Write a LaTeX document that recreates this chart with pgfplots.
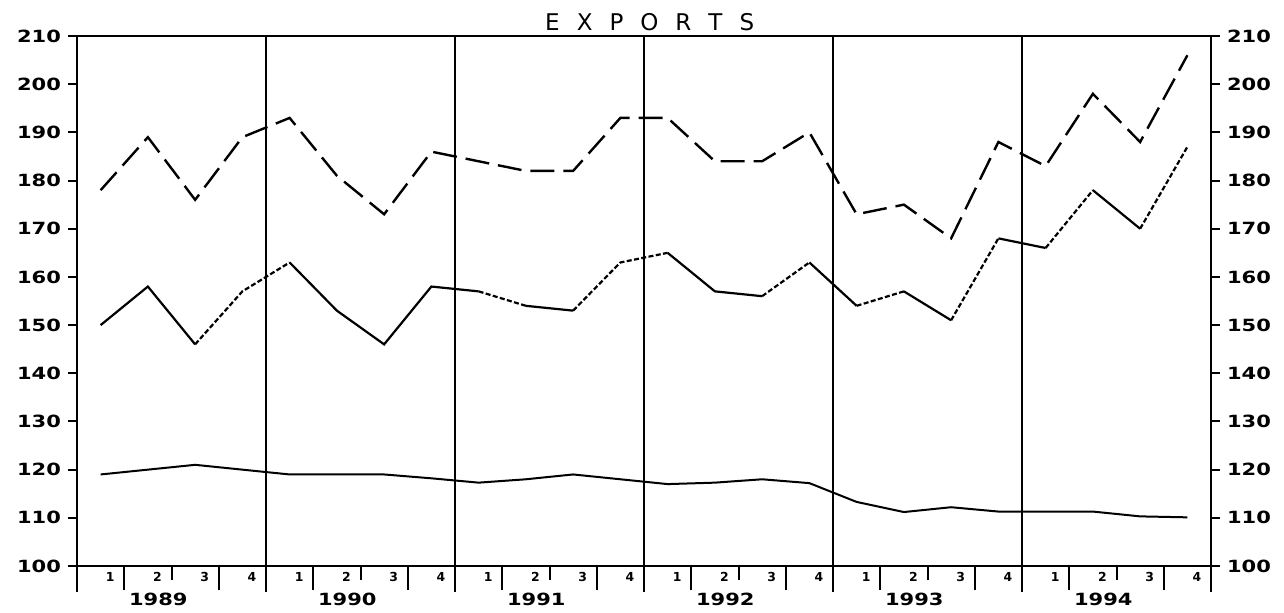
\documentclass[border=0pt]{standalone}
\usepackage{fontspec}
\setmainfont{DejaVu Sans}
\usepackage{graphicx}
\usepackage{pgfplots}
\pgfplotsset{compat=1.18}

\newcommand{\wide}[1]{\scalebox{1.25}[1]{#1}}

\pgfplotsset{
  frame/.style={
    scale only axis, width=567pt, height=265pt,
    at={(38.5pt,23pt)}, anchor=south west,
    xmin=0, xmax=24, ymin=100, ymax=210,
    axis line style={line width=1.4pt},
    tick style={line width=1pt, black},
    tick align=outside,
    /pgf/number format/assume math mode=true,
  },
  ylab/.style={
    ytick={100,110,...,210},
    yticklabel={\wide{\bfseries\pgfmathprintnumber{\tick}}},
    yticklabel style={font=\fontsize{8.4}{9}\selectfont},
    major tick length=4.5pt,
  },
}

\begin{document}
\begin{tikzpicture}
\useasboundingbox (0,0) rectangle (642pt,306pt);

% data, year lines, quarter ticks
\begin{axis}[frame,
  clip mode=individual,
  ytick=\empty,
  xtick pos=bottom,
  xtick={2,6,10,14,18,22}, xticklabels={},
  minor xtick={1,3,5,7,9,11,13,15,17,19,21,23},
  major tick length=7pt, minor tick length=12pt,
  extra x ticks={0,4,8,12,16,20,24}, extra x tick labels={},
  extra x tick style={grid=major, major grid style={black, line width=1pt}, major tick length=13pt},
  unbounded coords=jump,
]
% total exports
\addplot[black, line width=1.2pt, dash pattern=on 12pt off 4.5pt] coordinates {
  (0.5,178) (1.5,189) (2.5,176) (3.5,189) (4.5,193) (5.5,181) (6.5,173) (7.5,186)
  (8.5,184) (9.5,182) (10.5,182) (11.5,193) (12.5,193) (13.5,184) (14.5,184) (15.5,190)
  (16.5,173) (17.5,175) (18.5,168) (19.5,188) (20.5,183) (21.5,198) (22.5,188) (23.5,206)
};
% middle series, solid pieces
\addplot[black, line width=1.1pt] coordinates {
  (0.5,150) (1.5,158) (2.5,146) (3,nan)
  (4.5,163) (5.5,153) (6.5,146) (7.5,158) (8.5,157) (9,nan)
  (9.5,154) (10.5,153) (11,nan)
  (12.5,165) (13.5,157) (14.5,156) (15,nan)
  (15.5,163) (16.5,154) (17,nan)
  (17.5,157) (18.5,151) (19,nan)
  (19.5,168) (20.5,166) (21,nan)
  (21.5,178) (22.5,170)
};
% middle series, dotted pieces
\addplot[black, line width=1.1pt, dash pattern=on 2.5pt off 1.2pt] coordinates {
  (2.5,146) (3.5,157) (4.5,163) (5,nan)
  (8.5,157) (9.5,154) (10,nan)
  (10.5,153) (11.5,163) (12.5,165) (13,nan)
  (14.5,156) (15.5,163) (16,nan)
  (16.5,154) (17.5,157) (18,nan)
  (18.5,151) (19.5,168) (20,nan)
  (20.5,166) (21.5,178) (22,nan)
  (22.5,170) (23.5,187)
};
% bottom series
\addplot[black, line width=1pt] coordinates {
  (0.5,119) (1.5,120) (2.5,121) (3.5,120) (4.5,119) (5.5,119) (6.5,119) (7.5,118.2)
  (8.5,117.3) (9.5,118) (10.5,119) (11.5,118) (12.5,117) (13.5,117.3) (14.5,118) (15.5,117.2)
  (16.5,113.3) (17.5,111.2) (18.5,112.2) (19.5,111.3) (20.5,111.3) (21.5,111.3) (22.5,110.3) (23.5,110.1)
};
\node[anchor=base, font=\fontsize{11.5}{12}\selectfont] at (axis description cs:0.505,1) [yshift=3pt]
  {E\hspace{8.5pt}X\hspace{8.5pt}P\hspace{8.5pt}O\hspace{8.5pt}R\hspace{8.5pt}T\hspace{8.5pt}S};
\end{axis}

% left labels, quarter and year labels
\begin{axis}[frame, ylab,
  ytick pos=both, yticklabel pos=left,
  xtick pos=bottom,
  xtick={0.7,1.7,...,23.7},
  xticklabels={1,2,3,4,1,2,3,4,1,2,3,4,1,2,3,4,1,2,3,4,1,2,3,4},
  xtick style={draw=none},
  xticklabel style={font=\fontsize{6.2}{7}\selectfont\bfseries, anchor=center, yshift=-1pt},
  extra x ticks={1.72,5.72,9.72,13.72,17.72,21.72},
  extra x tick labels={\wide{1989},\wide{1990},\wide{1991},\wide{1992},\wide{1993},\wide{1994}},
  extra x tick style={xticklabel style={font=\fontsize{8.4}{9}\selectfont\bfseries, yshift=-11pt}},
]
\end{axis}

% right labels
\begin{axis}[frame, ylab,
  ytick pos=right, yticklabel pos=right,
  xtick=\empty,
]
\end{axis}
\end{tikzpicture}
\end{document}
